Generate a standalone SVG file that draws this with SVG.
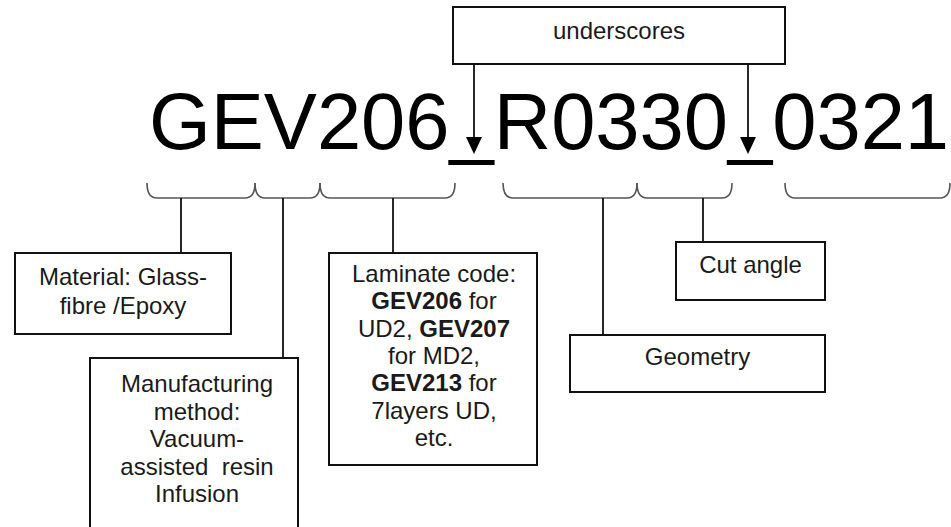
<svg xmlns="http://www.w3.org/2000/svg" width="951" height="527" viewBox="0 0 951 527">
<style>
.box{fill:#fff;stroke:#111;stroke-width:2}
.lbl{font-family:"Liberation Sans",Arial,sans-serif;font-size:24px;fill:#1a1a1a;text-anchor:middle;white-space:pre}
.b{font-weight:bold}
.code{font-family:"Liberation Sans",Arial,sans-serif;font-size:79.5px;fill:#000}
.brace{fill:none;stroke:#555;stroke-width:1.6}
.conn{fill:none;stroke:#111;stroke-width:1.8}
.head{fill:#000}
</style>
<rect width="951" height="527" fill="#fff"/>

<g id="code">
<text class="code" x="149" y="149">GEV206_R0330_0321</text>
</g>

<g id="braces">
<path class="brace" d="M147,183 Q147,198 157,198 H245 Q255,198 255,183"/>
<path class="brace" d="M255,183 Q255,198 265,198 H310 Q320,198 320,183"/>
<path class="brace" d="M320,183 Q320,198 330,198 H445 Q455,198 455,183"/>
<path class="brace" d="M503,183 Q503,198 513,198 H627 Q637,198 637,183"/>
<path class="brace" d="M637,183 Q637,198 647,198 H722 Q732,198 732,183"/>
<path class="brace" d="M785,183 Q785,198 795,198 H940 Q950,198 950,183"/>
</g>

<g id="connectors">
<line class="conn" x1="474" y1="64" x2="474" y2="138"/>
<polygon class="head" points="466,137 482,137 474,154"/>
<line class="conn" x1="748" y1="64" x2="748" y2="138"/>
<polygon class="head" points="740,137 756,137 748,154"/>
<line class="conn" x1="181" y1="198" x2="181" y2="253"/>
<line class="conn" x1="283" y1="198" x2="283" y2="358"/>
<line class="conn" x1="393" y1="198" x2="393" y2="253"/>
<line class="conn" x1="603" y1="198" x2="603" y2="335"/>
<line class="conn" x1="703" y1="198" x2="703" y2="242"/>
</g>

<g id="underscores">
<rect class="box" x="453" y="7" width="332" height="57"/>
<text class="lbl" x="619" y="39">underscores</text>
</g>

<g id="material">
<rect class="box" x="15" y="253" width="216" height="81"/>
<text class="lbl" x="123" y="285">Material: Glass-</text>
<text class="lbl" x="123" y="314">fibre /Epoxy</text>
</g>

<g id="manufacturing">
<rect class="box" x="90" y="358" width="208" height="180"/>
<text class="lbl" x="197" y="392">Manufacturing</text>
<text class="lbl" x="197" y="419.5">method:</text>
<text class="lbl" x="197" y="447">Vacuum-</text>
<text class="lbl" x="197" y="474.5">assisted  resin</text>
<text class="lbl" x="197" y="502">Infusion</text>
</g>

<g id="laminate">
<rect class="box" x="329" y="253" width="208" height="212"/>
<text class="lbl" x="434" y="282">Laminate code:</text>
<text class="lbl" x="434" y="309.3"><tspan class="b">GEV206</tspan> for</text>
<text class="lbl" x="434" y="336.6">UD2, <tspan class="b">GEV207</tspan></text>
<text class="lbl" x="434" y="363.9">for MD2,</text>
<text class="lbl" x="434" y="391.2"><tspan class="b">GEV213</tspan> for</text>
<text class="lbl" x="434" y="418.5">7layers UD,</text>
<text class="lbl" x="434" y="445.8">etc.</text>
</g>

<g id="cutangle">
<rect class="box" x="676" y="242" width="149" height="58"/>
<text class="lbl" x="750.5" y="273">Cut angle</text>
</g>

<g id="geometry">
<rect class="box" x="570" y="335" width="255" height="57"/>
<text class="lbl" x="697.5" y="365">Geometry</text>
</g>
</svg>
